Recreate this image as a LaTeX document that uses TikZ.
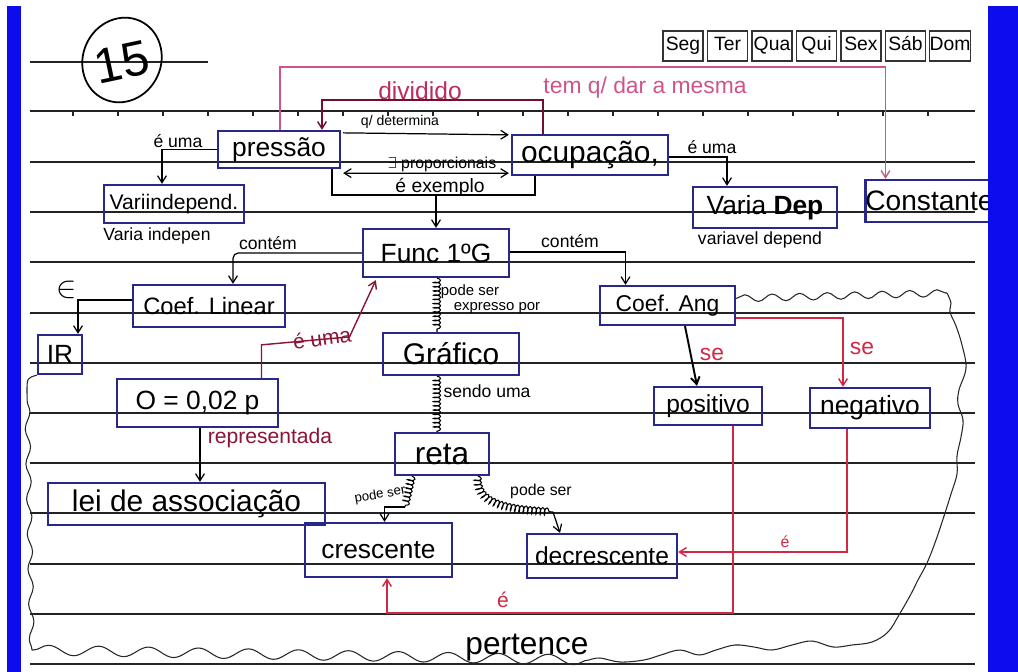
\documentclass[tikz,border=0pt]{standalone}
\usepackage{fontspec}
\setmainfont{Liberation Sans}
\usetikzlibrary{arrows.meta,decorations.pathmorphing,shapes.geometric}

\definecolor{barblue}{RGB}{12,12,236}
\definecolor{boxblue}{RGB}{40,40,140}
\definecolor{ruleink}{RGB}{35,35,35}
\definecolor{pinkink}{RGB}{205,85,140}
\definecolor{redink}{RGB}{210,40,70}
\definecolor{maroonink}{RGB}{140,20,55}
\definecolor{divink}{RGB}{185,45,95}

\newcommand{\fs}[1]{\fontsize{#1}{#1}\selectfont}

\tikzset{
  concept/.style={draw=boxblue, line width=1.3pt, inner sep=0pt, text=black},
  daybox/.style={draw=black!80, line width=0.9pt, inner sep=0pt,
    minimum width=0.8cm, minimum height=0.6cm, font=\fs{11},
    text height=8pt, text depth=2.5pt},
  link/.style={line width=0.7pt, draw=black},
  tip/.style={-{Straight Barb[length=4pt,width=5pt]}},
  lbl/.style={inner sep=0pt},
  coilline/.style={line width=0.6pt, decorate,
    decoration={coil, amplitude=2pt, segment length=2.4pt, aspect=0.35}},
  ruled/.style={draw=ruleink, line width=1.4pt},
  wavy/.style={draw=black!85, line width=0.6pt},
  redline/.style={line width=0.8pt, draw=redink},
  maroonline/.style={line width=0.8pt, draw=maroonink},
  divline/.style={line width=0.8pt, draw=maroonink!80!black},
  pinkline/.style={line width=0.8pt, draw=pinkink},
}

\begin{document}
\begin{tikzpicture}[x=0.02cm, y=-0.02cm]
\useasboundingbox (0,0) rectangle (1018,672);
\fill[white] (0,0) rectangle (1018,672);

% notebook rules
\draw[ruled] (30,62) -- (208,62);
\foreach \yy in {111,162,212,262,313,363,413,463,513,564,614,664}
  \draw[ruled] (30,\yy) -- (975,\yy);
\foreach \xx in {73,118,...,928}
  \draw[ruleink, line width=0.8pt] (\xx,111) -- (\xx,116);

% grade mark
\draw[line width=1pt, rotate around={-25:(122,60)}] (122,60) ellipse [x radius=39, y radius=43];
\node[rotate=12, font=\fs{28}] (gradenum) at (122,62) {15};

% weekday boxes
\node[daybox] (dSeg) at (683,46) {Seg};
\node[daybox] (dTer) at (727.5,46) {Ter};
\node[daybox] (dQua) at (772,46) {Qua};
\node[daybox] (dQui) at (816.5,46) {Qui};
\node[daybox] (dSex) at (861,46) {Sex};
\node[daybox] (dSab) at (905.5,46) {Sáb};
\node[daybox] (dDom) at (950,46) {Dom};

% concepts
\node[concept, minimum width=2.44cm, minimum height=0.74cm, font=\fs{15}] (press) at (279,149.5) {pressão};
\node[concept, minimum width=3.12cm, minimum height=0.80cm, font=\fs{17}] (ocup) at (590,155) {ocupação,};
\node[concept, minimum width=2.80cm, minimum height=0.76cm, font=\fs{12}] (vind) at (174,204) {Variindepend.};
\node[concept, minimum width=2.88cm, minimum height=0.82cm, font=\fs{15}] (vdep) at (765,207.5) {Varia \textbf{Dep}};
\node[concept, minimum width=2.34cm, minimum height=0.84cm, font=\fs{16}] (const) at (929.5,201) {Constante};
\node[concept, minimum width=2.92cm, minimum height=0.96cm, font=\fs{15}] (func) at (436,253) {Func 1ºG};
\node[concept, minimum width=3.04cm, minimum height=0.84cm, font=\fs{13.5}] (coeflin) at (209,306) {Coef. Linear};
\node[concept, minimum width=0.88cm, minimum height=0.78cm, font=\fs{15}] (IR) at (60,354.5) {IR};
\node[concept, minimum width=3.22cm, minimum height=0.96cm, font=\fs{15}] (eq) at (197.5,403) {O = 0,02 p};
\node[concept, minimum width=2.72cm, minimum height=0.84cm, font=\fs{17}] (graf) at (451,354) {Gráfico};
\node[concept, minimum width=2.70cm, minimum height=0.78cm, font=\fs{13}] (coefang) at (667.5,305.5) {Coef. Ang};
\node[concept, minimum width=2.16cm, minimum height=0.76cm, font=\fs{14}] (pos) at (708,406) {positivo};
\node[concept, minimum width=2.40cm, minimum height=0.80cm, font=\fs{15}] (neg) at (870,408) {negativo};
\node[concept, minimum width=1.88cm, minimum height=0.84cm, font=\fs{18}] (reta) at (442,454) {reta};
\node[concept, minimum width=5.54cm, minimum height=0.84cm, font=\fs{17}] (lei) at (186.5,504) {lei de associação};
\node[concept, minimum width=2.94cm, minimum height=1.08cm, font=\fs{15}] (cresc) at (378.5,550) {crescente};
\node[concept, minimum width=3.00cm, minimum height=0.88cm, font=\fs{14}] (decresc) at (602,556) {decrescente};

% wavy boundary around the lower part
\coordinate (bTR) at (947,293);
\coordinate (bBR) at (589,660);
\coordinate (bBL) at (32,650);
\coordinate (bTL) at (27,392);
\draw[wavy, decorate, decoration={snake, amplitude=0.07cm, segment length=0.55cm}]
  ([shift={(0,-7)}]coefang.east) -- (bTR);
\draw[wavy] plot[smooth, tension=0.6] coordinates {
  (947,293) (951,303) (950,312) (956,326) (962,345) (966,368) (959,390)
  (958,404) (963,420) (961,437) (957,456) (957,474) (951,494) (945,513)
  (936,540) (927,563) (918,580) (911,594) (899,615) (888,632) (872,642)
  (852,645) (833,647) (812,641) (792,645) (772,650) (754,647) (735,645)
  (716,650) (699,655) (680,650) (661,655) (644,660) (620,662) (600,658) (589,660)};
\draw[wavy, decorate, decoration={snake, amplitude=0.1cm, segment length=1cm}] (bBR) -- (bBL);
\draw[wavy, decorate, decoration={snake, amplitude=0.05cm, segment length=0.7cm}] (bBL) -- (bTL);
\draw[wavy] (bTL) .. controls (27,378) .. (IR.south west);

% links
\draw[link,tip] (press.west) -| ([shift={(-12,0)}]vind.north);
\draw[link,tip] ([shift={(0,2)}]ocup.east) -| ([shift={(-38,0)}]vdep.north);
\draw[link,tip] ([shift={(2,3)}]press.north east) -- ([shift={(-2,1)}]ocup.north west);
\draw[link,{Straight Barb[length=4pt,width=5pt]}-{Straight Barb[length=4pt,width=5pt]}]
  ([shift={(2,4)}]press.south east) -- ([shift={(-2,-3)}]ocup.south west);
\coordinate (exmid) at (436,195);
\draw[link] ([shift={(53,0)}]press.south) |- (exmid) -| ([shift={(-55,0)}]ocup.south);
\draw[link,tip] (exmid) -- (func.north);
\coordinate (divtop) at (432,100);
\draw[divline,tip] ([shift={(-47,0)}]ocup.north) |- (divtop) -| ([shift={(43,0)}]press.north);
\coordinate (mesmatop) at (600,67);
\draw[pinkline,tip] ([shift={(1,0)}]press.north) |- (mesmatop) -| ([shift={(-44,0)}]const.north);
\draw[link,tip,rounded corners=3pt] (func.west) -| ([shift={(24,0)}]coeflin.north);
\draw[link,tip] ([shift={(0,-1)}]func.east) -| ([shift={(-42,0)}]coefang.north);
\draw[link,tip] ([shift={(0,-6)}]coeflin.west) -| ([shift={(18,0)}]IR.north);
\draw[maroonline,tip] ([shift={(64,0)}]eq.north) -- ++(0,-33) -- ++(88,-8)
  -- ([shift={(14,2)}]func.south west);
\draw[coilline] ([shift={(1,0)}]func.south) -- ([shift={(-14,0)}]graf.north);
\draw[coilline] ([shift={(-14,0)}]graf.south) -- ([shift={(-5,0)}]reta.north);
\coordinate (pscA) at (405,507);
\draw[coilline] ([shift={(-30,0)}]reta.south) -- (pscA);
\draw[link,tip] (pscA) -| ([shift={(6,0)}]cresc.north);
\coordinate (pscB) at (553,512);
\draw[coilline] ([shift={(36,0)}]reta.south) to[out=-95,in=175] (pscB);
\draw[link,tip] (pscB) -- ([shift={(-42,0)}]decresc.north);
\draw[link,tip] ([shift={(2.5,0)}]eq.south) -- ([shift={(13.5,0)}]lei.north);
\draw[link,tip,line width=1.1pt] ([shift={(17.5,0)}]coefang.south) -- ([shift={(-11,0)}]pos.north);
\draw[redline,tip] ([shift={(0,12.5)}]coefang.east) -| ([shift={(-27,0)}]neg.north);
\draw[redline,tip] ([shift={(-23,0)}]neg.south) |- ([shift={(0,-4)}]decresc.east);
\coordinate (ebot) at (560,613);
\draw[redline,tip] ([shift={(25,0)}]pos.south) |- (ebot) -| ([shift={(8.5,0)}]cresc.south);

% link labels
\node[lbl, font=\fs{10}] (lEumaA) at (178,141) {é uma};
\node[lbl, font=\fs{10}] (lEumaB) at (712,147) {é uma};
\node[lbl, font=\fs{8}] (lDet) at (400,122) {q/ determina};
\node[lbl, font=\fs{9}] (lProp) at (442,164) {$\exists$ proporcionais};
\node[lbl, font=\fs{11}] (lExem) at (440,187) {é exemplo};
\node[lbl, font=\fs{14}, text=divink] (lDiv) at (420,91) {dividido};
\node[lbl, font=\fs{13}, text=pinkink] (lMesma) at (645,88) {tem q/ dar a mesma};
\node[lbl, font=\fs{10}] (lVind) at (157,236) {Varia indepen};
\node[lbl, font=\fs{10}] (lVdep) at (760,240) {variavel depend};
\node[lbl, font=\fs{10}] (lContA) at (268,243) {contém};
\node[lbl, font=\fs{10}] (lContB) at (570,241) {contém};
\node[lbl, font=\fs{18}] (lIn) at (67,290) {$\in$};
\node[lbl, font=\fs{12}, text=maroonink, rotate=8] (lEumaR) at (322,338) {é uma};
\node[lbl, font=\fs{8.5}] (lPode) at (470,292) {pode ser};
\node[lbl, font=\fs{8.5}] (lExpr) at (497,308) {expresso por};
\node[lbl, font=\fs{10}] (lSendo) at (487,391) {sendo uma};
\node[lbl, font=\fs{12}, text=maroonink] (lRep) at (270,438) {representada};
\node[lbl, font=\fs{13}, text=redink] (lSeA) at (712,354) {se};
\node[lbl, font=\fs{13}, text=redink] (lSeB) at (862,348) {se};
\node[lbl, font=\fs{7.5}, rotate=10] (lPodeA) at (380,495) {pode ser};
\node[lbl, font=\fs{9}] (lPodeB) at (541,491) {pode ser};
\node[lbl, font=\fs{9}, text=redink] (lEA) at (785,542) {é};
\node[lbl, font=\fs{12}, text=redink] (lEB) at (503,600) {é};
\node[lbl, font=\fs{18}] (lPert) at (527,648) {pertence};

% page margins
\fill[barblue] (7,6) rectangle (21,672);
\fill[barblue] (988,6) rectangle (1018,672);
\end{tikzpicture}
\end{document}
